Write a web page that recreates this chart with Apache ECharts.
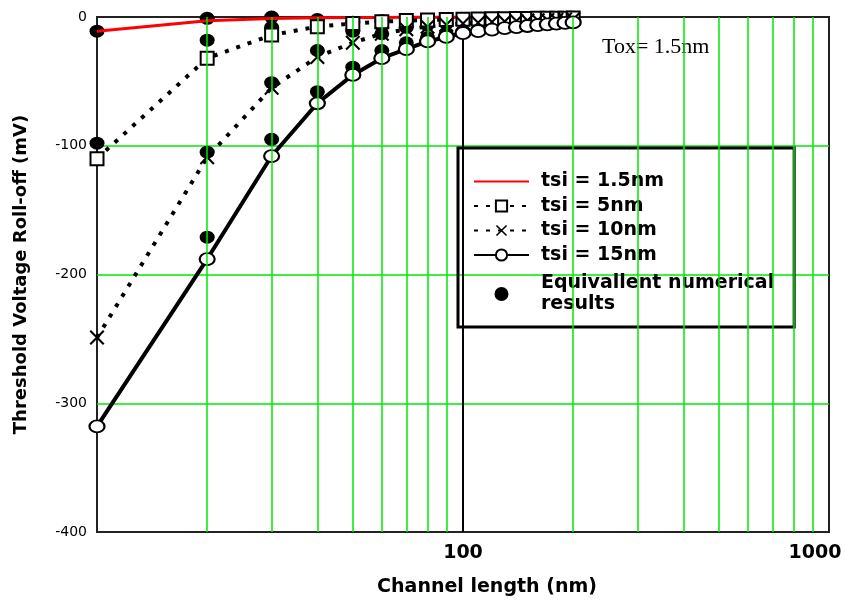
<!DOCTYPE html>
<html><head><meta charset="utf-8">
<script src="https://cdn.jsdelivr.net/npm/echarts@6/dist/echarts.min.js"></script>
<style>html,body{margin:0;padding:0;background:#fff}#c{width:845px;height:602px}</style>
</head><body><div id="c"></div>
<script>
// Channel length values (nm)
const xValues = [10,20,30,40,50,60,70,80,90,100,110,120,130,140,150,160,170,180,190,200];
// Threshold voltage roll-off (mV)
const tsi1_5 = [-11,-3,-1.2,-0.6,-0.4,-0.3,-0.25,-0.2,-0.15,-0.1,-0.1,-0.1,-0.1,-0.1,-0.1,-0.1,-0.1,-0.1,-0.1,-0.1];
const tsi5 = [-110,-32,-14,-7.5,-5,-3.6,-2.8,-2.3,-2,-1.7,-1.5,-1.4,-1.3,-1.2,-1.1,-1,-1,-0.9,-0.9,-0.8];
const tsi10 = [-249,-109,-55,-31,-20,-13,-9.5,-7.5,-6,-5,-4.4,-3.9,-3.5,-3.1,-2.8,-2.5,-2.3,-2.1,-1.9,-1.7];
const tsi15 = [-318,-188,-108,-67,-45,-32,-25,-19,-15.5,-12.5,-11,-9.8,-8.7,-7.8,-7,-6.3,-5.7,-5.1,-4.6,-4.2];
// Equivalent numerical results
const numX = [10,10,20,20,20,20,30,30,30,30,40,40,40,50,50,50,60,60,60,70,70,80,80,90,90,100];
const numY = [-11,-98,-1,-18,-105,-171,0,-8,-51,-95,-2,-26,-58,-4,-11,-39,-3,-13,-26,-8,-20,-6,-16,-5,-13,-11];
// axis ticks
const yTicks = [-400,-300,-200,-100,0];
const xLabels = [100,1000];
const xMinorGrid = [20,30,40,50,60,70,80,90,200,300,400,500,600,700,800,900];
const seriesNames = ['tsi = 1.5nm','tsi = 5nm','tsi = 10nm','tsi = 15nm','Equivallent numerical\nresults'];

const FONT = '"DejaVu Sans", sans-serif';
const GREEN = '#00e800';
const xSymbol = 'path://M0,1L1,0L10,9L9,10Z M9,0L10,1L1,10L0,9Z';

const zip = (xs, ys) => xs.map((x, i) => [x, ys[i]]);

const chart = echarts.init(document.getElementById('c'), null, {renderer: 'canvas'});
chart.setOption({
  animation: false,
  backgroundColor: '#fff',
  grid: {left: 97, right: 16, top: 17, bottom: 70, show: true, borderColor: '#222', borderWidth: 2, backgroundColor: 'transparent'},
  xAxis: {
    type: 'log', logBase: 10, min: 10, max: 1000,
    axisLine: {show: false}, axisTick: {show: false},
    splitLine: {show: true, showMinLine: false, showMaxLine: false, lineStyle: {color: '#000', width: 2}},
    axisLabel: {
      margin: 12, showMinLabel: true, showMaxLabel: true,
      formatter: v => (v === xLabels[0] ? '{a|' + v + '}' : (v === xLabels[1] ? '{b|' + v + '}' : '')),
      rich: {
        a: {fontFamily: FONT, fontWeight: 'bold', fontSize: 19, color: '#000'},
        b: {fontFamily: FONT, fontWeight: 'bold', fontSize: 19, color: '#000', padding: [0, 28, 0, 0]}
      }
    },
    name: 'Channel length (nm)', nameLocation: 'middle', nameGap: 46,
    nameTextStyle: {fontFamily: FONT, fontWeight: 'bold', fontSize: 19, color: '#000', padding: [0, 0, 0, 48]}
  },
  yAxis: {
    type: 'value', min: yTicks[0], max: yTicks[yTicks.length - 1], interval: 100,
    axisLine: {show: false}, axisTick: {show: false},
    splitLine: {show: true, showMinLine: false, showMaxLine: false, lineStyle: {color: GREEN, width: 1.5}},
    axisLabel: {margin: 10, fontFamily: FONT, fontSize: 14, color: '#000'},
    name: 'Threshold Voltage Roll-off (mV)', nameLocation: 'middle', nameGap: 67,
    nameTextStyle: {fontFamily: FONT, fontWeight: 'bold', fontSize: 18, color: '#000'}
  },
  legend: {
    orient: 'vertical', left: 458, top: 148,
    padding: [23, 20, 8, 15],
    itemWidth: 55, itemHeight: 14, itemGap: 3.5,
    borderColor: '#000', borderWidth: 3,
    backgroundColor: 'transparent',
    textStyle: {fontFamily: FONT, fontWeight: 'bold', fontSize: 19, color: '#000', lineHeight: 21, padding: [0, 0, 0, 7]},
    data: [
      {name: seriesNames[0], itemStyle: {opacity: 0}},
      {name: seriesNames[1]}, {name: seriesNames[2]}, {name: seriesNames[3]},
      {name: seriesNames[4], textStyle: {padding: [8, 0, 0, 7]}}
    ]
  },
  graphic: [{
    type: 'text', left: 602, top: 36,
    style: {text: 'Tox= 1.5nm', font: '22px "Liberation Serif", serif', fill: '#000'}
  }],
  series: [
    {
      name: 'grid', type: 'line', data: [], z: 1, silent: true,
      markLine: {
        silent: true, symbol: 'none', label: {show: false},
        lineStyle: {color: GREEN, width: 1.5, type: 'solid'},
        data: xMinorGrid.map(v => ({xAxis: v}))
      }
    },
    {
      name: seriesNames[0], type: 'line', data: zip(xValues, tsi1_5), clip: false,
      symbol: 'none', lineStyle: {color: '#ff0000', width: 3}, itemStyle: {color: '#ff0000'}
    },
    {
      name: seriesNames[1], type: 'line', data: zip(xValues, tsi5), clip: false,
      symbol: 'emptyRect', symbolSize: 13,
      lineStyle: {color: '#000', width: 4, type: [4, 8]},
      itemStyle: {color: '#000', borderColor: '#000', borderWidth: 1.5}
    },
    {
      name: seriesNames[2], type: 'line', data: zip(xValues, tsi10), clip: false,
      symbol: xSymbol, symbolSize: 15,
      lineStyle: {color: '#000', width: 4, type: [4, 8]},
      itemStyle: {color: '#000'}
    },
    {
      name: seriesNames[3], type: 'line', data: zip(xValues, tsi15), clip: false,
      symbol: 'emptyCircle', symbolSize: [15, 12],
      lineStyle: {color: '#000', width: 4},
      itemStyle: {color: '#000', borderColor: '#000', borderWidth: 1}
    },
    {
      name: seriesNames[4], type: 'scatter', data: zip(numX, numY), clip: false,
      symbol: 'circle', symbolSize: [15, 13],
      itemStyle: {color: '#000', opacity: 1}
    }
  ]
});
</script></body></html>
